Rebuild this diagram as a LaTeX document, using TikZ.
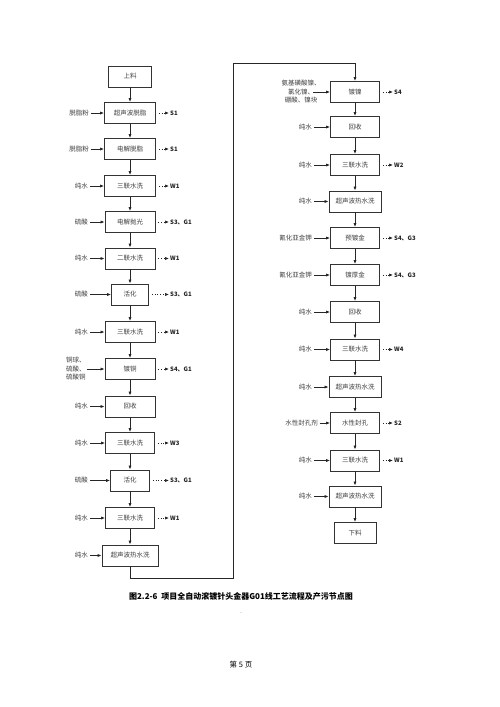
\documentclass[tikz,border=0pt]{standalone}
\usepackage{fontspec}
\setmainfont{Noto Sans CJK SC}
\usetikzlibrary{arrows.meta}
\begin{document}
\begin{tikzpicture}[x=1pt,y=-1pt,
  box/.style={draw=black!80,line width=0.9pt,minimum height=21pt,inner sep=0pt,font=\fontsize{6.5}{7}\selectfont,text=black!75},
  inlab/.style={font=\fontsize{6.5}{8.5}\selectfont,text=black!75,inner sep=0pt},
  outlab/.style={font=\bfseries\fontsize{6}{7}\selectfont,inner sep=0pt,anchor=west,text=black!85},
  inarr/.style={-{Latex[length=4pt,width=3.2pt]},line width=0.7pt,draw=black!85},
  outarr/.style={dotted,-{Latex[length=4pt,width=3.2pt]},line width=0.7pt,draw=black!85},
  flow/.style={-{Latex[length=4pt,width=3.2pt]},line width=0.8pt,draw=black!85}]
\useasboundingbox[fill=white] (0,0) rectangle (500,707);

% ---------- left column ----------
\node[box,minimum width=43pt] (sl) at (130,76.5) {上料};
\node[box,minimum width=51pt] (b1) at (130,113) {超声波脱脂};
\node[box,minimum width=51pt] (b2) at (130,149) {电解脱脂};
\node[box,minimum width=51pt] (b3) at (130,186) {三联水洗};
\node[box,minimum width=50pt] (b4) at (130,222) {电解抛光};
\node[box,minimum width=50pt] (b5) at (130,258.5) {二联水洗};
\node[box,minimum width=37pt] (b6) at (130,294.5) {活化};
\node[box,minimum width=50pt] (b7) at (130,332) {三联水洗};
\node[box,minimum width=50pt] (b8) at (130,369) {镀铜};
\node[box,minimum width=50pt] (b9) at (130,406.5) {回收};
\node[box,minimum width=49pt] (b10) at (130,443) {三联水洗};
\node[box,minimum width=39pt] (b11) at (130,480.5) {活化};
\node[box,minimum width=49pt] (b12) at (130,518) {三联水洗};
\node[box,minimum width=56pt] (b13) at (130,555.5) {超声波热水洗};

\foreach \a/\b in {sl/b1,b1/b2,b2/b3,b3/b4,b4/b5,b5/b6,b6/b7,b7/b8,b8/b9,b9/b10,b10/b11,b11/b12,b12/b13}
  \draw[flow] (\a.south) -- (\b.north);

% inputs left
\node[inlab,anchor=east] (i1) at (89,113) {脱脂粉};
\node[inlab,anchor=east] (i2) at (89,149) {脱脂粉};
\node[inlab,anchor=east] (i3) at (88,186) {纯水};
\node[inlab,anchor=east] (i4) at (88,222) {硫酸};
\node[inlab,anchor=east] (i5) at (88,258.5) {纯水};
\node[inlab,anchor=east] (i6) at (88,294.5) {硫酸};
\node[inlab,anchor=east] (i7) at (88,332) {纯水};
\node[inlab,anchor=west,align=left] (i8) at (66,369) {铜球、\\硫酸、\\硫酸铜};
\node[inlab,anchor=east] (i9) at (88,406.5) {纯水};
\node[inlab,anchor=east] (i10) at (88,443) {纯水};
\node[inlab,anchor=east] (i11) at (88,480.5) {硫酸};
\node[inlab,anchor=east] (i12) at (88,518) {纯水};
\node[inlab,anchor=east] (i13) at (88,555.5) {纯水};
\foreach \i/\b in {i1/b1,i2/b2,i3/b3,i4/b4,i5/b5,i6/b6,i7/b7,i8/b8,i9/b9,i10/b10,i11/b11,i12/b12,i13/b13}
  \draw[inarr] ([xshift=1.5pt]\i.east) -- (\b.west);

% outputs left
\node[outlab] (o1) at (170,113) {S1};
\node[outlab] (o2) at (170,149) {S1};
\node[outlab] (o3) at (170,186) {W1};
\node[outlab] (o4) at (170,222) {S3、G1};
\node[outlab] (o5) at (170,258.5) {W1};
\node[outlab] (o6) at (170,294.5) {S3、G1};
\node[outlab] (o7) at (170,332) {W1};
\node[outlab] (o8) at (170,369) {S4、G1};
\node[outlab] (o10) at (170,443) {W3};
\node[outlab] (o11) at (170,480.5) {S3、G1};
\node[outlab] (o12) at (170,518) {W1};
\foreach \b/\o in {b1/o1,b2/o2,b3/o3,b4/o4,b5/o5,b6/o6,b7/o7,b8/o8,b10/o10,b11/o11,b12/o12}
  \draw[outarr] ([xshift=3pt]\b.east) -- ([xshift=-1pt]\o.west);

% ---------- right column ----------
\node[box,minimum width=49pt] (r1) at (355,92) {镀镍};
\node[box,minimum width=49pt] (r2) at (355,127) {回收};
\node[box,minimum width=49pt] (r3) at (355,165) {三联水洗};
\node[box,minimum width=52pt] (r4) at (355,201.5) {超声波热水洗};
\node[box,minimum width=49pt] (r5) at (355,238) {预镀金};
\node[box,minimum width=49pt] (r6) at (355,275) {镀厚金};
\node[box,minimum width=49pt] (r7) at (355,312) {回收};
\node[box,minimum width=49pt] (r8) at (355,349.5) {三联水洗};
\node[box,minimum width=52pt] (r9) at (355,387) {超声波热水洗};
\node[box,minimum width=49pt] (r10) at (355,423) {水性封孔};
\node[box,minimum width=49pt] (r11) at (355,460.5) {三联水洗};
\node[box,minimum width=52pt] (r12) at (355,496.5) {超声波热水洗};
\node[box,minimum width=42pt] (r13) at (355,533) {下料};

\foreach \a/\b in {r1/r2,r2/r3,r3/r4,r4/r5,r5/r6,r6/r7,r7/r8,r8/r9,r9/r10,r10/r11,r11/r12,r12/r13}
  \draw[flow] (\a.south) -- (\b.north);

% link between columns
\coordinate (c1) at (130,578);
\coordinate (c2) at (233,578);
\coordinate (c3) at (233,63);
\coordinate (c4) at (355,63);
\draw[flow] (b13.south) -- (c1) -- (c2) -- (c3) -- (c4) -- (r1.north);

% inputs right
\node[inlab,align=center] (j1) at (301,92) {氨基磺酸镍、\\氯化镍、\\硼酸、镍块};
\coordinate (j1a) at (313,92);
\draw[inarr] (j1a) -- (r1.west);
\node[inlab,anchor=east] (j2) at (312,127) {纯水};
\node[inlab,anchor=east] (j3) at (312,165) {纯水};
\node[inlab,anchor=east] (j4) at (312,201.5) {纯水};
\node[inlab,anchor=east] (j5) at (312,238) {氰化亚金钾};
\node[inlab,anchor=east] (j6) at (312,275) {氰化亚金钾};
\node[inlab,anchor=east] (j7) at (312,312) {纯水};
\node[inlab,anchor=east] (j8) at (312,349.5) {纯水};
\node[inlab,anchor=east] (j9) at (312,387) {纯水};
\node[inlab,anchor=east] (j10) at (318,423) {水性封孔剂};
\node[inlab,anchor=east] (j11) at (312,460.5) {纯水};
\node[inlab,anchor=east] (j12) at (312,496.5) {纯水};
\foreach \i/\b in {j2/r2,j3/r3,j4/r4,j5/r5,j6/r6,j7/r7,j8/r8,j9/r9,j10/r10,j11/r11,j12/r12}
  \draw[inarr] ([xshift=1.5pt]\i.east) -- (\b.west);

% outputs right
\node[outlab] (p1) at (394,92) {S4};
\node[outlab] (p3) at (394,165) {W2};
\node[outlab] (p5) at (394,238) {S4、G3};
\node[outlab] (p6) at (394,275) {S4、G3};
\node[outlab] (p8) at (394,349.5) {W4};
\node[outlab] (p10) at (394,423) {S2};
\node[outlab] (p11) at (394,460.5) {W1};
\foreach \b/\o in {r1/p1,r3/p3,r5/p5,r6/p6,r8/p8,r10/p10,r11/p11}
  \draw[outarr] ([xshift=3pt]\b.east) -- ([xshift=-1pt]\o.west);

% caption and footer
\node[font=\bfseries\fontsize{8}{9}\selectfont,inner sep=0pt] (cap) at (241,596) {图2.2-6\ \ 项目全自动滚镀针头金器G01线工艺流程及产污节点图};
\node[font=\fontsize{5}{6}\selectfont,text=black!50,inner sep=0pt] (dots) at (241,613) {..};
\node[font=\fontsize{7.5}{9}\selectfont,inner sep=0pt] (page) at (241,665) {第 5 页};
\end{tikzpicture}
\end{document}
